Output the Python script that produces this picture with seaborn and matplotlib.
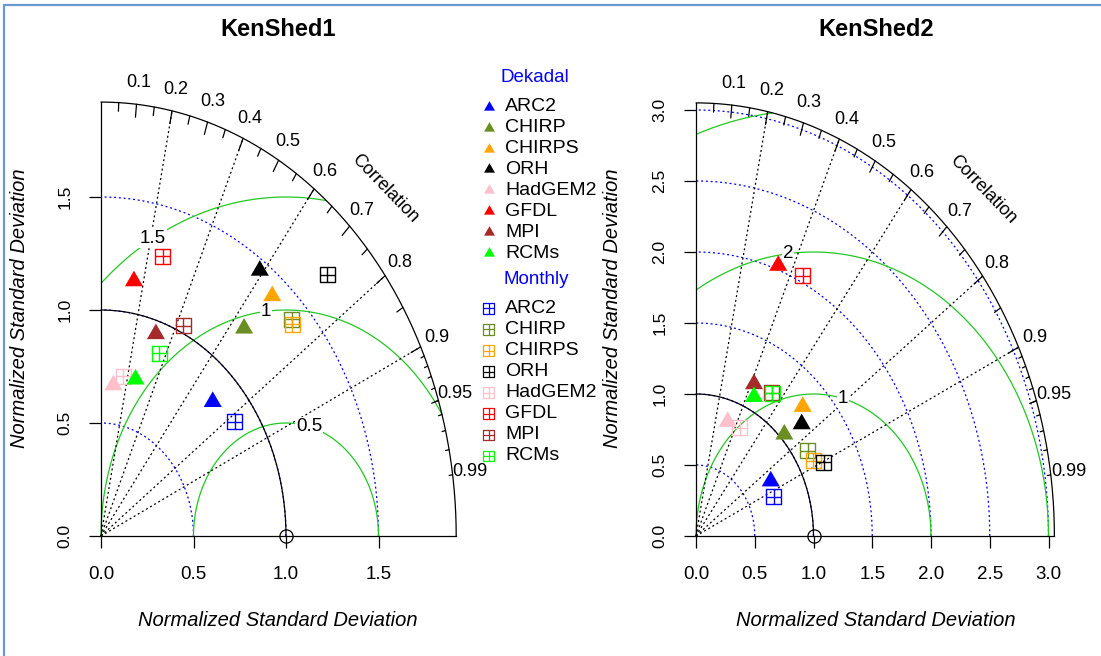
import numpy as np
import pandas as pd
import matplotlib
matplotlib.use("Agg")
import matplotlib.pyplot as plt
from matplotlib.path import Path
import seaborn as sns

# ---------------------------------------------------------------------------
# Taylor statistics (normalised standard deviation and correlation)
# ---------------------------------------------------------------------------
models = ["ARC2", "CHIRP", "CHIRPS", "ORH", "HadGEM2", "GFDL", "MPI", "RCMs"]
model_colors = ["blue", "olivedrab", "orange", "black", "pink", "red", "brown", "lime"]

ks1_dek_sd = [0.847, 1.201, 1.409, 1.455, 0.671, 1.142, 0.942, 0.718]
ks1_dek_cor = [0.713, 0.644, 0.657, 0.590, 0.100, 0.156, 0.315, 0.260]
ks1_mon_sd = [0.883, 1.409, 1.396, 1.682, 0.718, 1.283, 1.032, 0.867]
ks1_mon_cor = [0.820, 0.732, 0.741, 0.727, 0.169, 0.260, 0.431, 0.362]

ks2_dek_sd = [0.744, 1.038, 1.286, 1.196, 0.849, 2.029, 1.179, 1.098]
ks2_dek_cor = [0.855, 0.724, 0.706, 0.752, 0.318, 0.345, 0.419, 0.450]
ks2_mon_sd = [0.719, 1.123, 1.130, 1.206, 0.850, 2.044, 1.197, 1.197]
ks2_mon_cor = [0.923, 0.846, 0.884, 0.903, 0.440, 0.444, 0.538, 0.543]

panel_titles = ["KenShed1", "KenShed2"]
sd_ticks = [[0.0, 0.5, 1.0, 1.5], [0.0, 0.5, 1.0, 1.5, 2.0, 2.5, 3.0]]
rms_levels = [[0.5, 1.0, 1.5], [1.0, 2.0, 3.0]]
corr_lines = [0.2, 0.4, 0.6, 0.8, 0.9]
corr_labels = [0.1, 0.2, 0.3, 0.4, 0.5, 0.6, 0.7, 0.8, 0.9, 0.95, 0.99]
ref_sd = 1.0

# ---------------------------------------------------------------------------
sns.set_theme(style="white")
plt.rcParams["font.family"] = ["Liberation Sans", "DejaVu Sans"]
for k in ["text.color", "axes.labelcolor", "xtick.color", "ytick.color", "axes.edgecolor"]:
    plt.rcParams[k] = "black"

W, H = 1101, 656
fig = plt.figure(figsize=(W / 100, H / 100), dpi=100)
fig.patch.set_facecolor("white")


def px_rect(left, top, right, bottom):
    return [left / W, 1 - bottom / H, (right - left) / W, (bottom - top) / H]


# overlay in pixel units for the legend and frame
lg = fig.add_axes([0, 0, 1, 1])
lg.set_xlim(0, W)
lg.set_ylim(H, 0)
lg.axis("off")

tri = Path([(0, 1.1547), (-1, -0.57735), (1, -0.57735), (0, 1.1547)],
           [Path.MOVETO, Path.LINETO, Path.LINETO, Path.CLOSEPOLY])
boxcross = Path([(-1, -1), (1, -1), (1, 1), (-1, 1), (-1, -1),
                 (-1, 0), (1, 0), (0, -1), (0, 1)],
                [Path.MOVETO, Path.LINETO, Path.LINETO, Path.LINETO, Path.CLOSEPOLY,
                 Path.MOVETO, Path.LINETO, Path.MOVETO, Path.LINETO])

dotted = (0, (1.6, 2.2))
green = "#22C822"

panels = [
    dict(orig=(101, 536, 185.0, 226.0), rmax=1.92,
         dek=(ks1_dek_sd, ks1_dek_cor), mon=(ks1_mon_sd, ks1_mon_cor)),
    dict(orig=(696, 536, 117.5, 142.0), rmax=3.05,
         dek=(ks2_dek_sd, ks2_dek_cor), mon=(ks2_mon_sd, ks2_mon_cor)),
]

palette = dict(zip(models, model_colors))

for i, p in enumerate(panels):
    ox, oy, sx, sy = p["orig"]
    R = p["rmax"]
    ax = fig.add_axes(px_rect(ox, oy - R * sy, ox + R * sx, oy))
    ax.set_xlim(0, R)
    ax.set_ylim(0, R)
    ax.patch.set_alpha(0)
    for s in ["top", "right"]:
        ax.spines[s].set_visible(False)
    for s in ["left", "bottom"]:
        ax.spines[s].set_linewidth(0.9)
        ax.spines[s].set_color("black")

    ticks = sd_ticks[i]
    ax.set_xticks(ticks, [f"{t:.1f}" for t in ticks])
    ax.set_yticks(ticks, [f"{t:.1f}" for t in ticks], rotation=90, va="center")
    ax.tick_params(axis="both", which="major", direction="out", length=8.5, width=0.9,
                   bottom=True, left=True, colors="black")
    ax.tick_params(axis="x", labelsize=13.5, pad=13)
    ax.tick_params(axis="y", labelsize=12.5, pad=12)

    th = np.linspace(0, np.pi / 2, 300)
    # standard deviation arcs
    for s in ticks[1:]:
        ax.plot(s * np.cos(th), s * np.sin(th), color="blue", lw=0.9, ls=dotted,
                clip_on=False, zorder=1)

    # centred RMS difference contours around the reference point
    levels = rms_levels[i]
    lab_ang = (np.floor(np.linspace(45, 70, len(levels))) - 1) * 0.03
    tg = np.linspace(0, np.pi, 600)
    for g, la in zip(levels, lab_ang):
        gx = ref_sd + g * np.cos(tg)
        gy = g * np.sin(tg)
        keep = (gx >= 0) & (gx ** 2 + gy ** 2 <= R ** 2)
        ax.plot(gx[keep], gy[keep], color=green, lw=0.9, clip_on=False, zorder=1)
        lx, ly = ref_sd + g * np.cos(la), g * np.sin(la)
        if lx > 0:
            ax.text(lx, ly, f"{g:g}", fontsize=13.5, ha="center", va="center", zorder=2,
                    bbox=dict(facecolor="white", edgecolor="none", pad=0.6))

    # correlation rays
    for c in corr_lines:
        ax.plot([0, R * c], [0, R * np.sqrt(1 - c ** 2)], color="black", lw=0.9,
                ls=dotted, clip_on=False, zorder=1)

    # outer arc with correlation ticks
    ax.plot(R * np.cos(th), R * np.sin(th), color="black", lw=0.9, clip_on=False)
    for vals, frac in [(np.arange(0.1, 0.91, 0.1), 0.97),
                       (np.arange(0.05, 0.96, 0.1), 0.98),
                       (np.arange(0.91, 0.995, 0.01), 0.99)]:
        a = np.arccos(vals)
        for aa in a:
            ax.plot([R * np.cos(aa), frac * R * np.cos(aa)],
                    [R * np.sin(aa), frac * R * np.sin(aa)],
                    color="black", lw=0.9, clip_on=False)
    for c in corr_labels:
        a = np.arccos(c)
        ax.text(1.05 * R * np.cos(a), 1.05 * R * np.sin(a), f"{c:g}", fontsize=13,
                ha="center", va="center")
    ax.text(0.8 * R, 0.8 * R, "Correlation", fontsize=13, rotation=-46,
            rotation_mode="anchor", ha="center", va="center")

    # reference arc and point
    ax.plot(ref_sd * np.cos(th), ref_sd * np.sin(th), color="black", lw=0.9,
            clip_on=False, zorder=2)
    ax.plot([ref_sd], [0], marker="o", ms=9.5, mfc="none", mec="black", mew=0.9,
            clip_on=False, zorder=3)

    # model points
    msd, mcor = np.array(p["mon"][0]), np.array(p["mon"][1])
    ax.scatter(msd * mcor, msd * np.sqrt(1 - mcor ** 2), marker=boxcross, s=117,
               facecolors="none", edgecolors=model_colors, linewidths=1.0,
               clip_on=False, zorder=5)
    dsd, dcor = np.array(p["dek"][0]), np.array(p["dek"][1])
    dek = pd.DataFrame({"model": models, "x": dsd * dcor,
                        "y": dsd * np.sqrt(1 - dcor ** 2)})
    sns.scatterplot(data=dek, x="x", y="y", hue="model", palette=palette,
                    marker=tri, s=225, linewidth=0, legend=False, ax=ax,
                    clip_on=False, zorder=6)

    ax.set_xlabel("Normalized Standard Deviation", fontsize=14.5, style="italic",
                  va="center")
    ax.set_ylabel("Normalized Standard Deviation", fontsize=14.5, style="italic",
                  va="center")
    cx = (278 if i == 0 else 876)
    ax.xaxis.set_label_coords((cx - ox) / (R * sx), (oy - 620) / (R * sy))
    ylx = (20 if i == 0 else 613)
    ax.yaxis.set_label_coords((ylx - ox) / (R * sx), (oy - 308) / (R * sy))
    ax.text((cx - ox) / (R * sx), (oy - 30) / (R * sy), panel_titles[i],
            transform=ax.transAxes, fontsize=17, fontweight="bold",
            ha="center", va="center")

# legend between the panels
lg.text(535, 77, "Dekadal", color="blue", fontsize=13.5, ha="center", va="center")
lg.text(536.5, 279.5, "Monthly", color="blue", fontsize=13.5, ha="center", va="center")
for j, (m, c) in enumerate(zip(models, model_colors)):
    yd = 106.7 + 20.9 * j
    ym = 308.3 + 21.1 * j
    lg.scatter([488.5], [yd], marker=tri, s=83, color=c, linewidths=0)
    lg.scatter([488.5], [ym], marker=boxcross, s=59, facecolors="none",
               edgecolors=[c], linewidths=0.9)
    lg.text(505, yd, m, fontsize=14, ha="left", va="center")
    lg.text(505, ym, m, fontsize=14, ha="left", va="center")

# frame
lg.plot([4, 4], [5, H], color="#6A98D0", lw=1.6)
lg.plot([4, W], [5, 5], color="#6A98D0", lw=1.6)

fig.savefig("out.png", dpi=100)
